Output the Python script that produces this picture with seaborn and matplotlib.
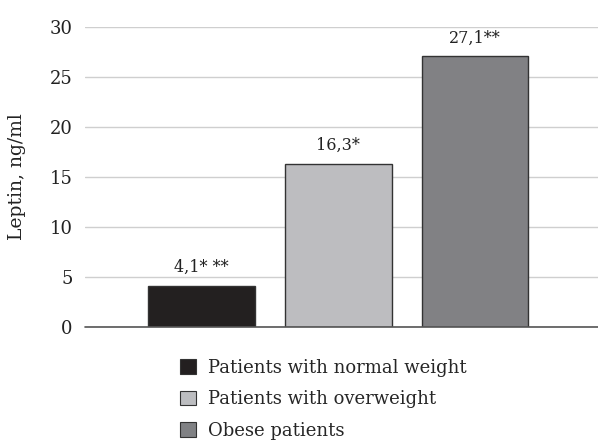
import pandas as pd
import matplotlib
matplotlib.use("Agg")
import matplotlib.pyplot as plt
import seaborn as sns

# data
groups = ["Patients with normal weight", "Patients with overweight", "Obese patients"]
leptin = [4.1, 16.3, 27.1]
bar_labels = ["4,1* **", "16,3*", "27,1**"]
colors = ["#231f20", "#bcbdc0", "#808184"]

df = pd.DataFrame({"group": groups, "leptin": leptin})

sns.set_style("white")
plt.rcParams["font.family"] = ["DejaVu Serif"]

fig = plt.figure(figsize=(5.98, 4.44), dpi=100)
ax = fig.add_axes([0.142, 0.2635, 0.858, 0.6755])

sns.barplot(data=df, x="group", y="leptin", hue="group", palette=colors,
            width=0.78, edgecolor="#333333", linewidth=1.0, legend=False,
            ax=ax, zorder=3)

for cont, lab in zip(ax.containers, bar_labels):
    ax.bar_label(cont, labels=[lab], padding=7, fontsize=11.5, color="#222222")

ax.set_ylim(0, 30)
ax.set_xlim(-0.853, 2.90)
ax.set_yticks([0, 5, 10, 15, 20, 25, 30])
ax.yaxis.grid(True, color="#cfcfcf", linewidth=1.0, zorder=0)
ax.set_axisbelow(True)
ax.axhline(0, color="#555555", linewidth=1.2, zorder=4, clip_on=False)
for s in ["top", "right", "left", "bottom"]:
    ax.spines[s].set_visible(False)
ax.set_xticks([])
ax.set_xlabel("")
ax.tick_params(axis="y", length=0, labelsize=13, pad=9, colors="#222222")
ax.set_ylabel("Leptin, ng/ml", fontsize=13.5, color="#222222", labelpad=17)

handles = [plt.Rectangle((0, 0), 1, 1, facecolor=c, edgecolor="#333333", linewidth=0.8)
           for c in colors]
fig.legend(handles, groups, loc="upper left", bbox_to_anchor=(0.289, 0.208),
           frameon=False, fontsize=13, handlelength=0.9, handleheight=0.9,
           handletextpad=0.65, labelspacing=0.74, borderaxespad=0)

plt.savefig("out.png", dpi=100)
